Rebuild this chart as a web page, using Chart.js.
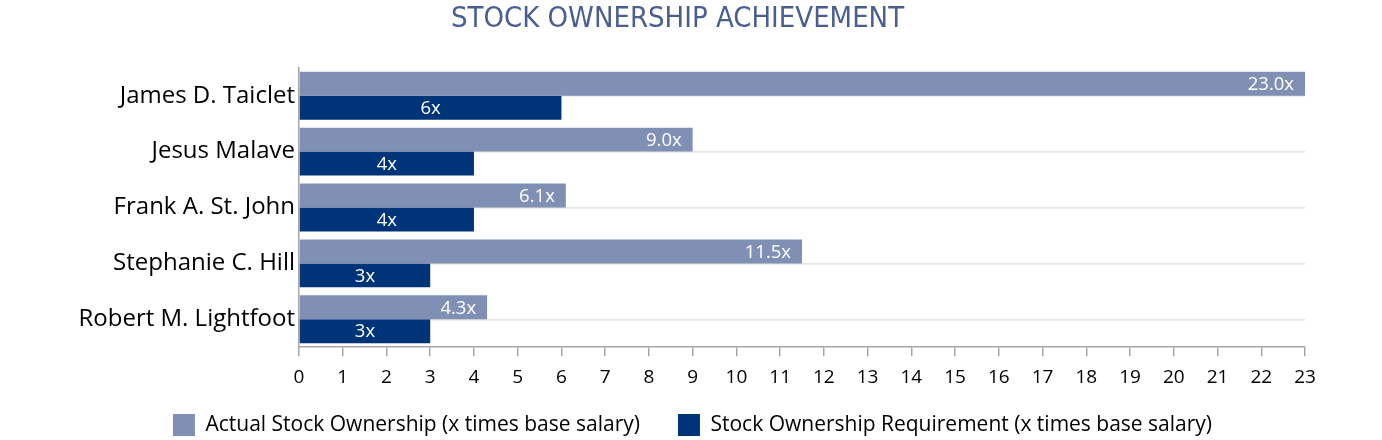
<!DOCTYPE html>
<html>
<head>
<meta charset="utf-8">
<script src="https://cdn.jsdelivr.net/npm/chart.js@4"></script>
<style>
  html, body { margin: 0; padding: 0; background: #ffffff; }
  #wrap { width: 1382px; height: 440px; }
</style>
</head>
<body>
<div id="wrap"><canvas id="c" width="1382" height="440"></canvas></div>
<script>
const titleText = 'STOCK OWNERSHIP ACHIEVEMENT';
const categories = ['James D. Taiclet', 'Jesus Malave', 'Frank A. St. John', 'Stephanie C. Hill', 'Robert M. Lightfoot'];
const actualLabel = 'Actual Stock Ownership (x times base salary)';
const requirementLabel = 'Stock Ownership Requirement (x times base salary)';
const actualValues = [23.0, 9.0, 6.1, 11.5, 4.3];
const requirementValues = [6, 4, 4, 3, 3];
const xTickValues = [0,1,2,3,4,5,6,7,8,9,10,11,12,13,14,15,16,17,18,19,20,21,22,23];

const LIGHT = '#8090b5';
const DARK = '#003478';
const FONT = '"Open Sans", sans-serif';
const LEGEND_TRIM = 23;
const LEGEND_SHIFT_X = 15;

const barLabels = {
  id: 'barLabels',
  afterDatasetsDraw(chart) {
    const ctx = chart.ctx;
    ctx.save();
    ctx.fillStyle = '#ffffff';
    ctx.font = '18.5px ' + FONT;
    ctx.textBaseline = 'middle';
    chart.data.datasets.forEach((ds, di) => {
      const meta = chart.getDatasetMeta(di);
      meta.data.forEach((bar, i) => {
        const v = ds.data[i];
        if (di === 0) {
          ctx.textAlign = 'right';
          ctx.fillText(v.toFixed(1) + 'x', bar.x - 11, bar.y + 1);
        } else {
          ctx.textAlign = 'center';
          ctx.fillText(v + 'x', (bar.x + bar.base) / 2, bar.y + 1);
        }
      });
    });
    ctx.restore();
  }
};

// keep wide horizontal spacing between legend items while trimming the space above them
const legendTrim = {
  id: 'legendTrim',
  beforeLayout(chart) {
    const lg = chart.legend;
    if (!lg || lg.__trimmed) return;
    lg.__trimmed = true;
    const fit = lg.fit, draw = lg.draw;
    lg.fit = function () { fit.call(this); this.height -= LEGEND_TRIM; };
    lg.draw = function (area) {
      this.top -= LEGEND_TRIM; this.left += LEGEND_SHIFT_X; this.right += LEGEND_SHIFT_X;
      draw.call(this, area);
      this.top += LEGEND_TRIM; this.left -= LEGEND_SHIFT_X; this.right -= LEGEND_SHIFT_X;
    };
  }
};

new Chart(document.getElementById('c'), {
  type: 'bar',
  data: {
    labels: categories,
    datasets: [
      { label: actualLabel, data: actualValues, backgroundColor: LIGHT, borderWidth: 0 },
      { label: requirementLabel, data: requirementValues, backgroundColor: DARK, borderWidth: 0 }
    ]
  },
  options: {
    indexAxis: 'y',
    responsive: false,
    animation: false,
    devicePixelRatio: 1,
    categoryPercentage: 0.855,
    barPercentage: 1.0,
    layout: { padding: { left: 50, right: 77, top: 2, bottom: -6 } },
    plugins: {
      title: {
        display: true,
        text: titleText,
        color: '#4a5f8f',
        font: { family: '"DejaVu Sans Condensed", "DejaVu Sans", sans-serif', size: 29, weight: 'normal' },
        padding: { top: 0, bottom: 31 }
      },
      legend: {
        position: 'bottom',
        labels: {
          boxWidth: 22,
          boxHeight: 22,
          padding: 38,
          color: '#000000',
          font: { family: FONT, size: 21 }
        }
      },
      tooltip: { enabled: false }
    },
    scales: {
      x: {
        type: 'linear',
        min: 0,
        max: 23,
        afterBuildTicks(scale) { scale.ticks = xTickValues.map(v => ({ value: v })); },
        grid: { drawOnChartArea: false, drawTicks: true, tickLength: 9, color: '#a6a6a6', lineWidth: 1.5 },
        border: { display: true, color: '#a6a6a6', width: 1.5 },
        ticks: { color: '#000000', font: { family: FONT, size: 19 }, padding: 10, maxRotation: 0, autoSkip: false }
      },
      y: {
        afterFit(scale) { scale.width = 249; },
        grid: { offset: false, drawTicks: false, color: '#e3e3e3', lineWidth: 1.5 },
        border: { display: true, color: '#a6a6a6', width: 1.5 },
        ticks: { color: '#000000', font: { family: FONT, size: 24 }, padding: 4 }
      }
    }
  },
  plugins: [barLabels, legendTrim]
});
</script>
</body>
</html>
